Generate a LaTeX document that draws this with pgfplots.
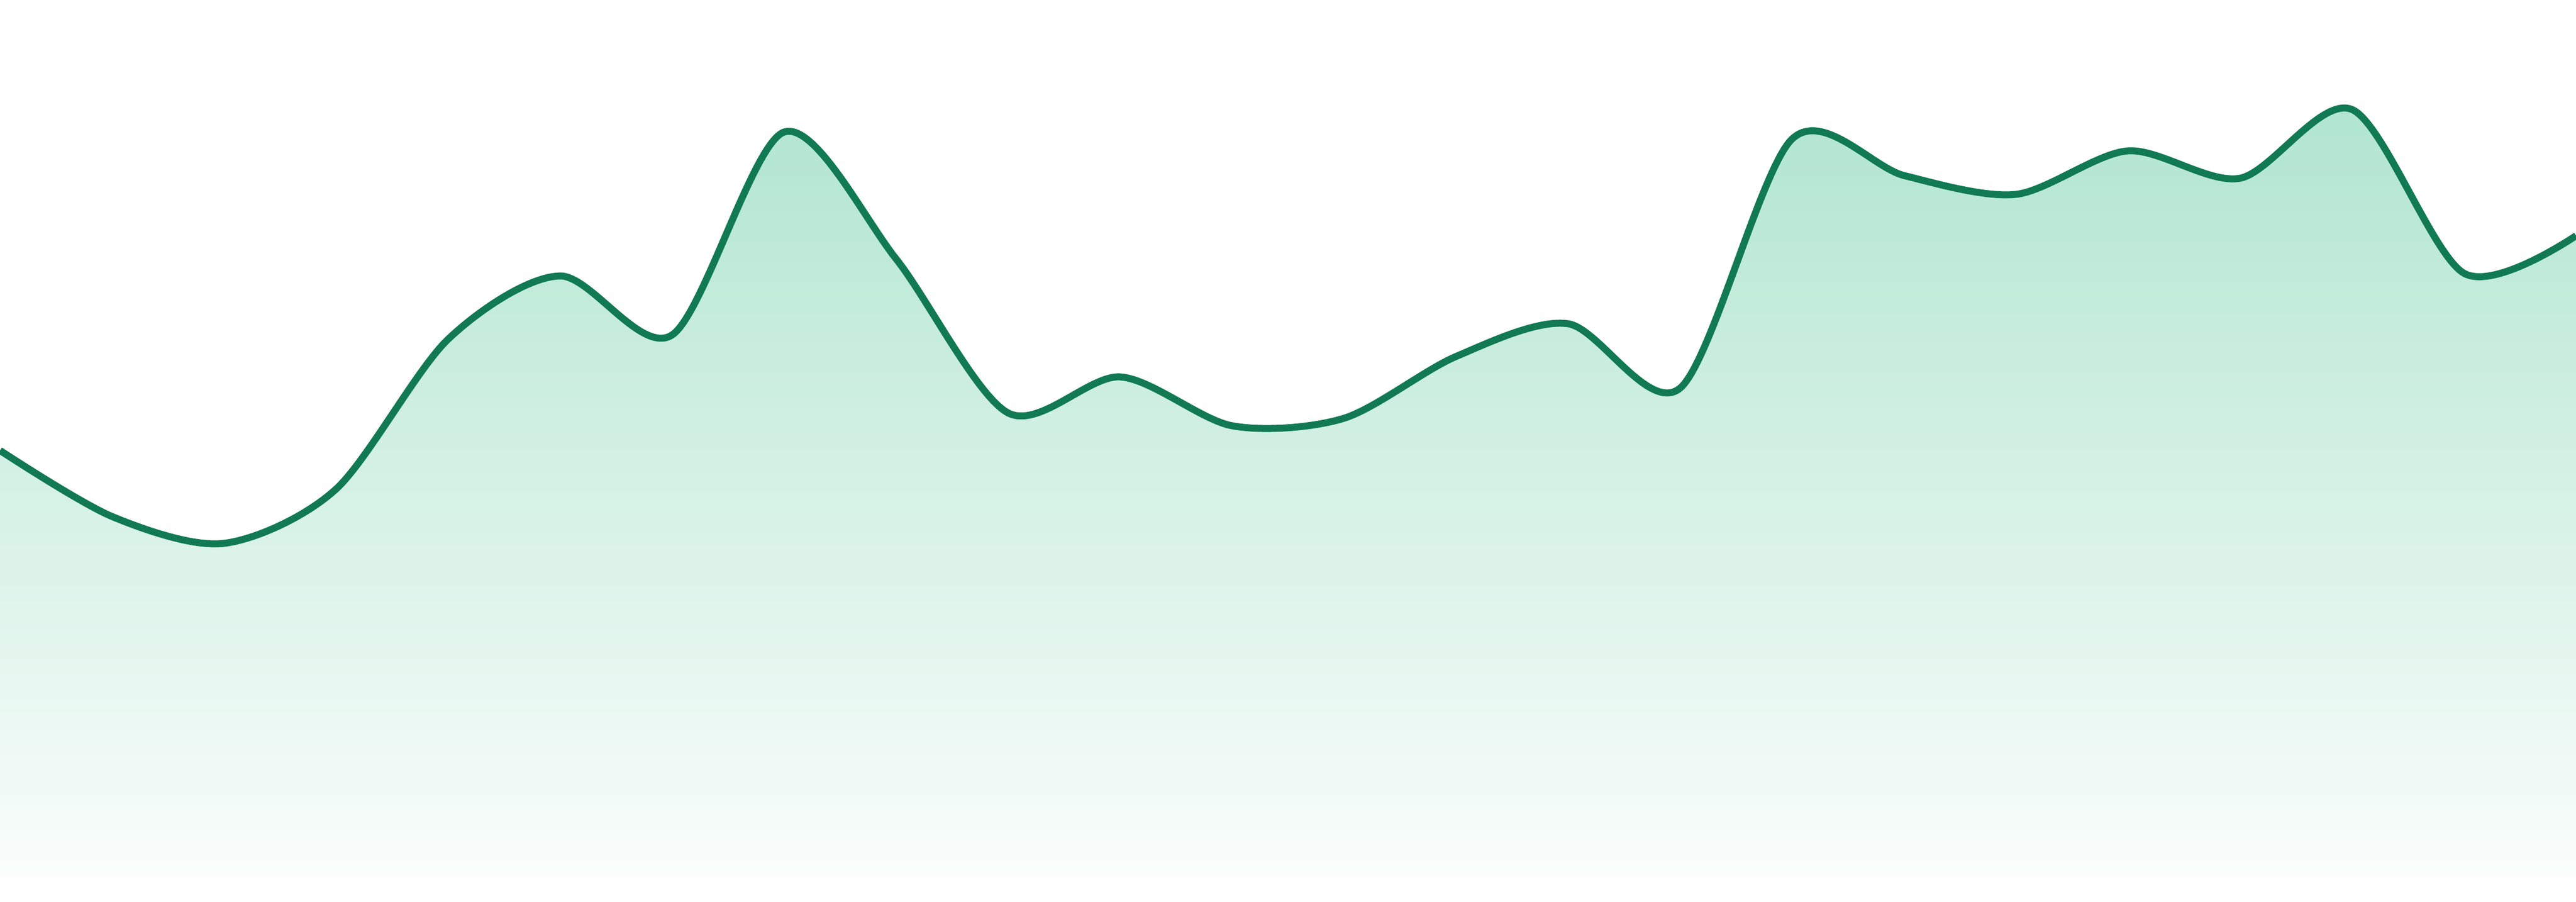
\documentclass[border=0pt]{standalone}
\usepackage{pgfplots}
\pgfplotsset{compat=1.18}

\definecolor{linegreen}{RGB}{17,122,82}
\definecolor{filltop}{RGB}{176,229,207}
\definecolor{fillbottom}{RGB}{250,253,252}

\begin{document}
\begin{tikzpicture}
  \begin{axis}[
      width=480pt,
      height=168pt,
      scale only axis,
      axis line style={draw=none},
      xtick=\empty, ytick=\empty,
      xmin=0, xmax=23,
      ymin=-48, ymax=1632,
    ]
    % area under the curve, vertical gradient
    \addplot [draw=none, top color=filltop, bottom color=fillbottom, smooth, tension=0.5]
      coordinates {
      (0,793) (1,670) (2,620) (3,721) (4,1000) (5,1118) (6,1008) (7,1386)
      (8,1150) (9,863) (10,930) (11,839) (12,853) (13,968) (14,1029) (15,909)
      (16,1373) (17,1305) (18,1270) (19,1351) (20,1300) (21,1428) (22,1123) (23,1193)
    } \closedcycle;
    % the line itself
    \addplot [linegreen, line width=1.3pt, line join=round, smooth, tension=0.5]
      coordinates {
      (0,793) (1,670) (2,620) (3,721) (4,1000) (5,1118) (6,1008) (7,1386)
      (8,1150) (9,863) (10,930) (11,839) (12,853) (13,968) (14,1029) (15,909)
      (16,1373) (17,1305) (18,1270) (19,1351) (20,1300) (21,1428) (22,1123) (23,1193)
    };
  \end{axis}
\end{tikzpicture}
\end{document}
